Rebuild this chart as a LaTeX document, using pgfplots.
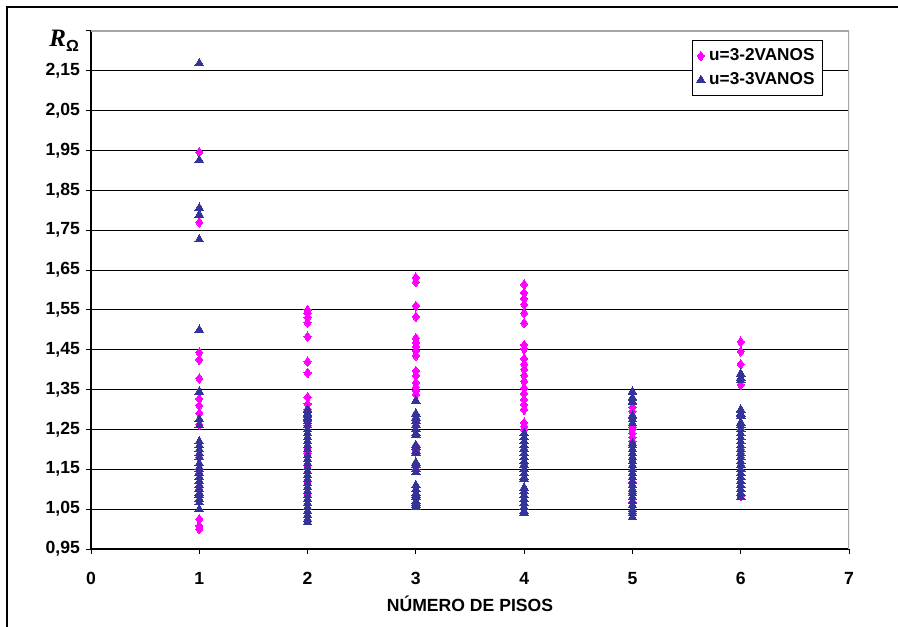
\documentclass[border=0pt]{standalone}
\usepackage{pgfplots}
\pgfplotsset{compat=1.18}
\usepackage{fontspec}
\setmainfont{Liberation Sans}
\newfontfamily\serifR{Liberation Serif}
\definecolor{pinkm}{HTML}{FF00FF}
\definecolor{navym}{HTML}{333399}
\begin{document}
\begin{tikzpicture}[x=1pt,y=1pt]
\useasboundingbox (0,0) rectangle (449,313);
\fill[white] (0,0) rectangle (449,313);
\draw[line width=1pt] (3.5,-1) -- (3.5,309.5) -- (450,309.5);
\begin{axis}[
  at={(45.5pt,38.5pt)}, anchor=south west,
  width=379pt, height=259pt, scale only axis,
  xmin=0, xmax=7, ymin=0.95, ymax=2.25,
  xtick={0,1,2,3,4,5,6,7},
  ytick={0.95,1.05,1.15,1.25,1.35,1.45,1.55,1.65,1.75,1.85,1.95,2.05,2.15},
  extra y ticks={2.25}, extra y tick labels={}, extra y tick style={grid=none},
  ymajorgrids, grid style={black, line width=0.5pt},
  axis x line*=bottom, axis y line*=left,
  axis line style={black, line width=0.6pt, -},
  tick align=outside, major tick length=2.5pt,
  tick style={black, line width=0.5pt},
  /pgf/number format/assume math mode=true,
  ticklabel style={font=\fontsize{8.8}{10}\selectfont\bfseries},
  xticklabel style={yshift=-5.5pt},
  y tick label style={xshift=0.5pt, /pgf/number format/.cd, fixed, fixed zerofill, precision=2, use comma},
  xlabel={NÚMERO DE PISOS},
  xlabel style={font=\fontsize{8.8}{10}\selectfont\bfseries, at={(axis description cs:0.5,0)}, anchor=center, yshift=-27.5pt},
  ylabel={{\serifR\fontsize{12.5}{13}\selectfont\bfseries\itshape R}{\fontsize{8}{9}\selectfont\bfseries\raisebox{-2.5pt}{Ω}}},
  ylabel style={rotate=-90, at={(rel axis cs:0,1)}, anchor=east, xshift=-2.5pt, yshift=-5pt},
  legend style={at={(rel axis cs:1,1)}, anchor=north east, xshift=-13pt, yshift=-4.5pt,
    draw=black, line width=0.5pt, font=\fontsize{8.6}{10}\selectfont\bfseries,
    row sep=0.5pt, inner xsep=2pt, inner ysep=2pt},
  legend cell align=left,
  legend image post style={line width=0pt},
]
\addplot[only marks, mark=diamond*, mark size=2.4pt, color=pinkm, mark options={draw=pinkm, fill=pinkm, line width=0pt}] table {
x y
1 1.946
1 1.770
1 1.443
1 1.425
1 1.378
1 1.327
1 1.310
1 1.291
1 1.263
1 1.180
1 1.140
1 1.100
1 1.025
1 1.008
1 1.000
2 1.550
2 1.542
2 1.531
2 1.518
2 1.483
2 1.420
2 1.392
2 1.331
2 1.314
2 1.300
2 1.280
2 1.270
2 1.260
2 1.205
2 1.195
2 1.190
2 1.160
2 1.120
2 1.090
3 1.631
3 1.620
3 1.560
3 1.533
3 1.479
3 1.468
3 1.458
3 1.447
3 1.435
3 1.397
3 1.385
3 1.368
3 1.356
3 1.347
3 1.338
3 1.270
3 1.260
3 1.210
3 1.200
3 1.195
3 1.160
3 1.150
4 1.614
4 1.593
4 1.578
4 1.564
4 1.542
4 1.517
4 1.462
4 1.452
4 1.428
4 1.414
4 1.401
4 1.386
4 1.371
4 1.354
4 1.340
4 1.325
4 1.312
4 1.300
4 1.267
4 1.258
4 1.250
4 1.200
4 1.165
4 1.160
5 1.306
5 1.295
5 1.256
5 1.250
5 1.240
5 1.230
5 1.220
5 1.175
5 1.117
5 1.090
5 1.067
5 1.040
6 1.470
6 1.446
6 1.414
6 1.362
6 1.250
6 1.200
6 1.190
6 1.180
6 1.160
6 1.083
};
\addlegendentry{u=3-2VANOS}
\addplot[only marks, mark=triangle*, mark size=2.5pt, color=navym, mark options={draw=navym, fill=navym, line width=0pt}] table {
x y
1 2.169
1 1.926
1 1.806
1 1.789
1 1.727
1 1.500
1 1.345
1 1.276
1 1.260
1 1.220
1 1.210
1 1.200
1 1.190
1 1.180
1 1.165
1 1.155
1 1.150
1 1.140
1 1.130
1 1.120
1 1.110
1 1.100
1 1.090
1 1.085
1 1.075
1 1.067
1 1.050
2 1.300
2 1.290
2 1.280
2 1.270
2 1.260
2 1.250
2 1.240
2 1.230
2 1.220
2 1.210
2 1.200
2 1.185
2 1.175
2 1.165
2 1.155
2 1.145
2 1.135
2 1.125
2 1.115
2 1.105
2 1.095
2 1.085
2 1.075
2 1.065
2 1.055
2 1.045
2 1.035
2 1.025
2 1.017
3 1.322
3 1.290
3 1.280
3 1.270
3 1.260
3 1.250
3 1.240
3 1.235
3 1.210
3 1.205
3 1.195
3 1.190
3 1.167
3 1.160
3 1.150
3 1.142
3 1.110
3 1.100
3 1.090
3 1.085
3 1.080
3 1.070
3 1.065
3 1.060
3 1.055
4 1.240
4 1.230
4 1.220
4 1.210
4 1.200
4 1.190
4 1.180
4 1.170
4 1.160
4 1.150
4 1.140
4 1.130
4 1.125
4 1.104
4 1.095
4 1.085
4 1.075
4 1.065
4 1.055
4 1.045
4 1.040
5 1.345
5 1.330
5 1.320
5 1.285
5 1.275
5 1.265
5 1.215
5 1.210
5 1.200
5 1.190
5 1.180
5 1.170
5 1.160
5 1.150
5 1.140
5 1.130
5 1.120
5 1.110
5 1.100
5 1.090
5 1.080
5 1.070
5 1.060
5 1.050
5 1.040
5 1.030
6 1.390
6 1.380
6 1.373
6 1.300
6 1.290
6 1.283
6 1.267
6 1.260
6 1.250
6 1.240
6 1.230
6 1.220
6 1.210
6 1.200
6 1.190
6 1.180
6 1.170
6 1.160
6 1.150
6 1.140
6 1.130
6 1.120
6 1.110
6 1.100
6 1.090
6 1.080
};
\addlegendentry{u=3-3VANOS}
\draw[gray!70, line width=0.6pt] (rel axis cs:0,1) -- (rel axis cs:1,1) -- (rel axis cs:1,0);
\end{axis}
\end{tikzpicture}
\end{document}
